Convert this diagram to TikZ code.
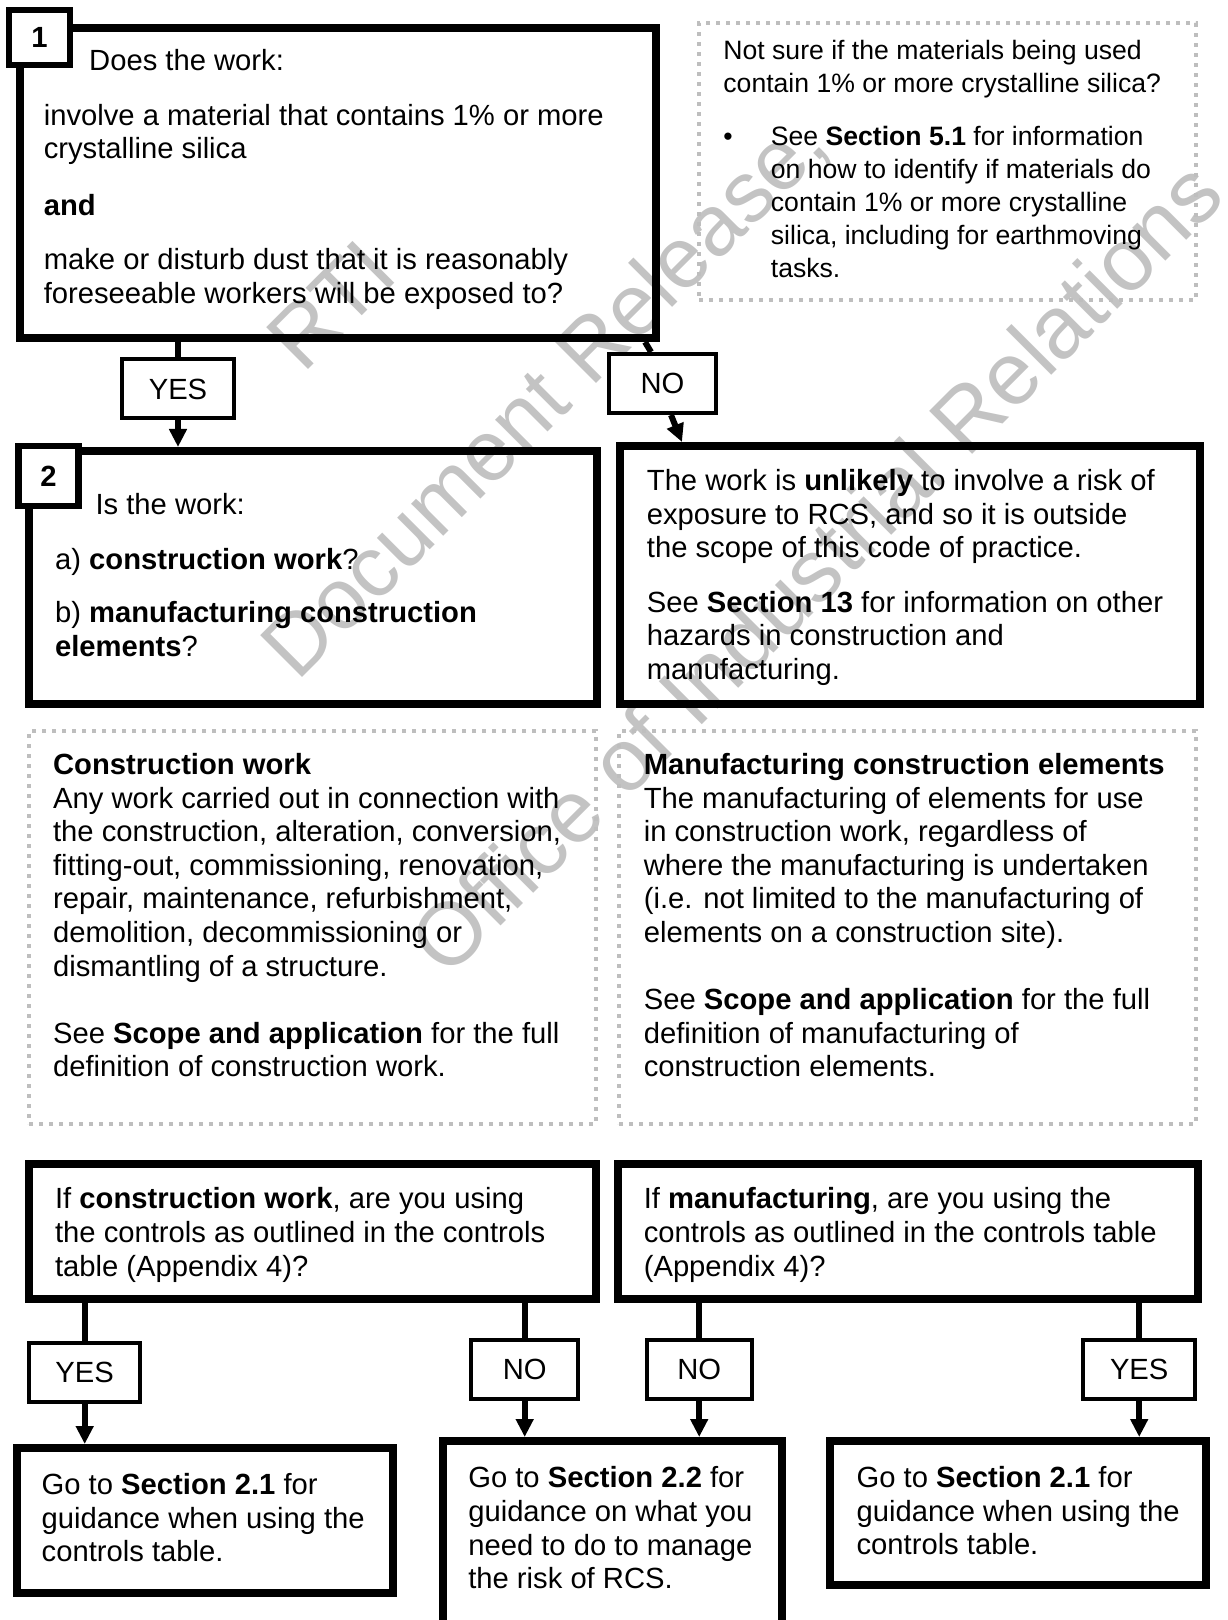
\documentclass[tikz,border=0pt]{standalone}
\usepackage{fontspec}
\setmainfont{Liberation Sans}
\usepackage{tikz}
\usetikzlibrary{positioning, calc, arrows.meta}
\definecolor{dotgrey}{RGB}{190,190,190}
\definecolor{wmgrey}{RGB}{195,195,195}
\tikzstyle{Link} = [
%Connector line style:
line width=3pt
]
\tikzstyle{Arrow} = [Link, -{Triangle[width=8.5pt, length=9pt]}]

\begin{document}
\begin{tikzpicture}[x=0.5pt, y=-0.5pt,
				every node/.style = {font=\fontsize{14.6}{16.8}\selectfont},
				question/.style = {rectangle, draw, line width=4pt},
				note/.style = {rectangle, draw=dotgrey, line width=2.2pt, dash pattern=on 2.2pt off 2.8pt},
				tab/.style = {rectangle, draw, fill=white, line width=3.2pt, font=\fontsize{14.6}{16.8}\selectfont\bfseries},
				answer/.style = {rectangle, draw, line width=2pt, minimum height=29.5pt},
				words/.style = {anchor=north west, inner sep=0pt, align=left},
				stamp/.style = {text=wmgrey, rotate=45, inner sep=0pt, font=\fontsize{43}{50}\selectfont},
			]
			\useasboundingbox (0,0) rectangle (1227,1620);
			\clip (0,0) rectangle (1227,1620);

			\node[stamp](wm1) at (331,305){RTI};
			\node[stamp, anchor=base west](wm2) at (297,683){Document Release,};
			\node[stamp, anchor=base west, font=\fontsize{44.2}{50}\selectfont](wm3) at (447,980){Office of Industrial Relations};

			\node[question, minimum width=318pt, minimum height=155pt](q1) at (338,183){};
			\node[tab, minimum width=30.5pt, minimum height=27.5pt](t1) at (39.5,37.5){1};
			\node[words](q1text) at (43.4,46.5){\strut\hspace*{22.7pt}Does the work:\\[10.5pt]
				involve a material that contains 1\% or more\\
				crystalline silica\\[11.5pt]
				\textbf{and}\\[10.5pt]
				make or disturb dust that it is reasonably\\
				foreseeable workers will be exposed to?};

			\node[note, minimum width=248.5pt, minimum height=138.5pt](n1) at (947.5,161.5){};
			\node[words, font=\fontsize{13.3}{16.5}\selectfont](n1text) at (723,35.6){\strut Not sure if the materials being used\\
				contain 1\% or more crystalline silica?\\[10.4pt]
				\makebox[23.75pt][l]{\textbullet}See \textbf{Section 5.1} for information\\
				\hspace*{23.75pt}on how to identify if materials do\\
				\hspace*{23.75pt}contain 1\% or more crystalline\\
				\hspace*{23.75pt}silica, including for earthmoving\\
				\hspace*{23.75pt}tasks.};

			\node[answer, minimum width=56pt](yes1) at (178,389){YES};
			\node[answer, minimum width=53.5pt](no1) at (662.5,383.5){NO};

			\node[question, minimum width=284pt, minimum height=126.5pt](q2) at (313,577.5){};
			\node[tab, minimum width=30pt, minimum height=30pt](t2) at (48.5,476){2};
			\node[words](q2text) at (54.7,490.5){\strut\hspace*{20.2pt}Is the work:\\[10.5pt]
				a) \textbf{construction work}?\\[10pt]
				b) \textbf{manufacturing construction}\\
				\textbf{elements}?};

			\node[question, minimum width=290pt, minimum height=129pt](qno) at (910,575){};
			\node[words](qnotext) at (646.5,466.5){\strut The work is \textbf{unlikely} to involve a risk of\\
				exposure to RCS, and so it is outside\\
				the scope of this code of practice.\\[10.5pt]
				See \textbf{Section 13} for information on other\\
				hazards in construction and\\
				manufacturing.};

			\node[note, minimum width=283.5pt, minimum height=196.5pt](n2) at (312.5,927.5){};
			\node[words](n2text) at (52.7,750.5){\strut\textbf{Construction work}\\
				Any work carried out in connection with\\
				the construction, alteration, conversion,\\
				fitting-out, commissioning, renovation,\\
				repair, maintenance, refurbishment,\\
				demolition, decommissioning or\\
				dismantling of a structure.\\[16.8pt]
				See \textbf{Scope and application} for the full\\
				definition of construction work.};

			\node[note, minimum width=288.5pt, minimum height=196.5pt](n3) at (907.5,927.5){};
			\node[words](n3text) at (643.4,750.5){\strut\textbf{Manufacturing construction elements}\\
				The manufacturing of elements for use\\
				in construction work, regardless of\\
				where the manufacturing is undertaken\\
				(i.e. not limited to the manufacturing of\\
				elements on a construction site).\\[16.8pt]
				See \textbf{Scope and application} for the full\\
				definition of manufacturing of\\
				construction elements.};

			\node[question, minimum width=283.5pt, minimum height=67.5pt](q3l) at (312.5,1231.5){};
			\node[words](q3ltext) at (54.7,1185){\strut If \textbf{construction work}, are you using\\
				the controls as outlined in the controls\\
				table (Appendix 4)?};
			\node[question, minimum width=290pt, minimum height=67.5pt](q3r) at (908,1231.5){};
			\node[words](q3rtext) at (643.4,1185){\strut If \textbf{manufacturing}, are you using the\\
				controls as outlined in the controls table\\
				(Appendix 4)?};

			\node[answer, minimum width=55.7pt](yes2) at (84.7,1372.7){YES};
			\node[answer, minimum width=53.7pt](no2) at (524.7,1369){NO};
			\node[answer, minimum width=52.7pt](no3) at (699.2,1369){NO};
			\node[answer, minimum width=55.8pt](yes3) at (1139.2,1369){YES};

			\node[question, minimum width=188pt, minimum height=72.3pt](outl) at (204.5,1520.3){};
			\node[words](outltext) at (41.3,1470.5){\strut Go to \textbf{Section 2.1} for\\
				guidance when using the\\
				controls table.};
			\node[question, minimum width=169.5pt, minimum height=129.5pt](outm) at (612.5,1570.5){};
			\node[words](outmtext) at (467.9,1464){\strut Go to \textbf{Section 2.2} for\\
				guidance on what you\\
				need to do to manage\\
				the risk of RCS.};
			\node[question, minimum width=188pt, minimum height=72.2pt](outr) at (1018.4,1513.2){};
			\node[words](outrtext) at (856.2,1463.5){\strut Go to \textbf{Section 2.1} for\\
				guidance when using the\\
				controls table.};

			\draw[Link](yes1 |- q1.south)--(yes1.north);
			\draw[Arrow](yes1.south)--(yes1 |- q2.north);
			\draw[Link]([xshift=-8.75pt]no1.north |- q1.south)--([xshift=-5.75pt]no1.north);
			\draw[Arrow]([xshift=4.25pt]no1.south)--([xshift=9.75pt]no1.south |- qno.north);

			\draw[Link](yes2 |- q3l.south)--(yes2.north);
			\draw[Arrow](yes2.south)--(yes2 |- outl.north);
			\draw[Link](no2 |- q3l.south)--(no2.north);
			\draw[Arrow](no2.south)--(no2 |- outm.north);
			\draw[Link](no3 |- q3r.south)--(no3.north);
			\draw[Arrow](no3.south)--(no3 |- outm.north);
			\draw[Link](yes3 |- q3r.south)--(yes3.north);
			\draw[Arrow](yes3.south)--(yes3 |- outr.north);
		\end{tikzpicture}
\end{document}
